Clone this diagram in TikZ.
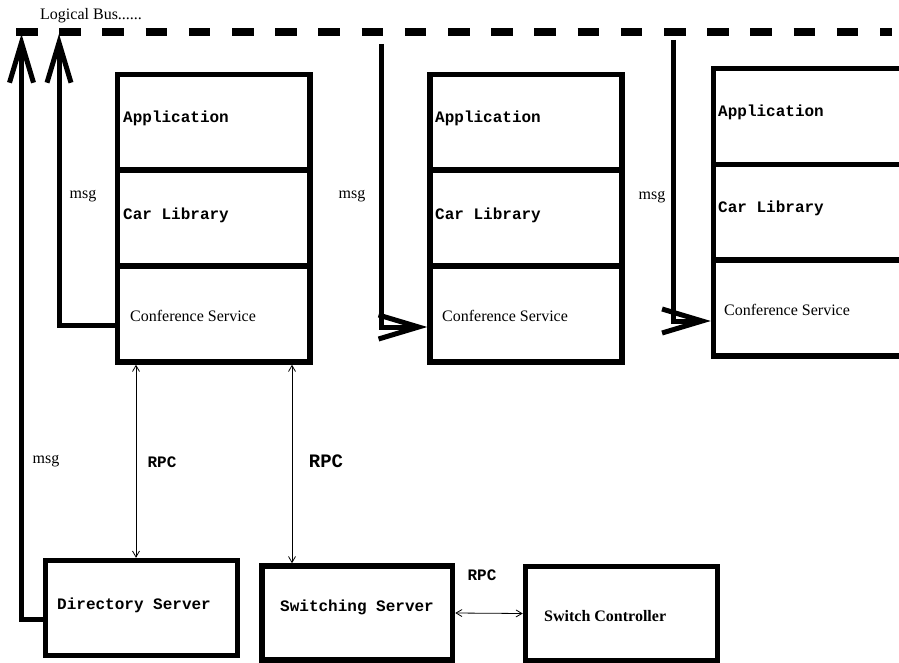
\documentclass[tikz,border=0pt]{standalone}
\usepackage{fontspec}
\setmainfont{Liberation Serif}
\newfontfamily\monofont{Liberation Mono}
\usetikzlibrary{arrows.meta}

\begin{document}
\begin{tikzpicture}[x=1pt,y=-1pt,
  layer/.style={draw, line width=5.5pt, inner sep=0pt},
  monotext/.style={font=\monofont\bfseries\fontsize{16}{18}\selectfont, anchor=west, inner sep=0pt},
  seriftext/.style={font=\fontsize{16}{18}\selectfont, anchor=west, inner sep=0pt},
  boldserif/.style={font=\bfseries\fontsize{16}{18}\selectfont, anchor=west, inner sep=0pt},
  rpclabel/.style={font=\monofont\bfseries\fontsize{#1}{#1}\selectfont, inner sep=0pt},
  rpclabel/.default=16,
  msgarrow/.style={line width=5pt, -{Straight Barb[length=40pt,width=24pt]}},
  rpcarrow/.style={line width=0.8pt, {Straight Barb[length=6pt,width=7pt]}-{Straight Barb[length=6pt,width=7pt]}},
  bus/.style={line width=8pt, dash pattern=on 21.5pt off 21.7pt}]

\useasboundingbox (0,0) rectangle (899,663);
\clip (0,0) rectangle (899,663);

% logical bus
\node[seriftext] (buslabel) at (40,16) {Logical Bus......};
\coordinate (busL) at (16,32);
\coordinate (busR) at (892,32);
\draw[bus] (busL) -- (busR);

% first host stack
\node[layer, minimum width=192.5pt, minimum height=95.5pt] (app1) at (213.75,122.5) {};
\node[layer, minimum width=192.5pt, minimum height=95.5pt] (lib1) at (213.75,218.25) {};
\node[layer, minimum width=192.5pt, minimum height=96pt]   (cs1)  at (213.75,314) {};
\node[monotext]  (app1t) at (123,118) {Application};
\node[monotext]  (lib1t) at (123,215) {Car Library};
\node[seriftext] (cs1t)  at (130,316) {Conference Service};

% second host stack
\node[layer, minimum width=192pt, minimum height=95.5pt] (app2) at (526,122.5) {};
\node[layer, minimum width=192pt, minimum height=95.5pt] (lib2) at (526,218.25) {};
\node[layer, minimum width=192pt, minimum height=96pt]   (cs2)  at (526,314) {};
\node[monotext]  (app2t) at (435,118) {Application};
\node[monotext]  (lib2t) at (435,215) {Car Library};
\node[seriftext] (cs2t)  at (442,316) {Conference Service};

% third host stack
\node[layer, minimum width=200pt, minimum height=96pt]   (app3) at (813.5,116.5) {};
\node[layer, minimum width=200pt, minimum height=95.5pt] (lib3) at (813.5,212.25) {};
\node[layer, minimum width=200pt, minimum height=96pt]   (cs3)  at (813.5,308) {};
\node[monotext]  (app3t) at (718,112) {Application};
\node[monotext]  (lib3t) at (718,208) {Car Library};
\node[seriftext] (cs3t)  at (724,310) {Conference Service};

% servers
\node[layer, minimum width=192pt, minimum height=95pt]  (dir) at (141.5,608) {};
\node[monotext] (dirt) at (57,605) {Directory Server};
\node[layer, minimum width=190.5pt, minimum height=94pt] (sw) at (357.25,613) {};
\node[monotext] (swt) at (280,607) {Switching Server};
\node[layer, minimum width=192pt, minimum height=94pt] (ctl) at (621.5,613.5) {};
\node[boldserif] (ctlt) at (544,616) {Switch Controller};

% message paths to and from the bus
\coordinate (upA) at (21.5,34);
\coordinate (upB) at (59,34);
\coordinate (dnC) at (381,44);
\coordinate (dnD) at (673,40);
\draw[msgarrow] ([yshift=-11.5pt]dir.west) -| (upA);
\draw[msgarrow] ([yshift=-11.5pt]cs1.west) -| (upB);
\draw[msgarrow] (dnC) |- ([yshift=-13pt]cs2.west);
\draw[msgarrow] (dnD) |- ([yshift=-13pt]cs3.west);

\node[seriftext, anchor=center] (msg1) at (83,196) {msg};
\node[seriftext, anchor=center] (msg2) at (352,196) {msg};
\node[seriftext, anchor=center] (msg3) at (652,197) {msg};
\node[seriftext, anchor=center] (msg4) at (46,461) {msg};

% RPC links
\coordinate (xA) at (136,0);
\coordinate (xB) at (292,0);
\draw[rpcarrow] (cs1.south -| xA) -- (dir.north -| xA);
\draw[rpcarrow] (cs1.south -| xB) -- (sw.north -| xB);
\draw[rpcarrow] (sw.east) -- (ctl.west);

\node[rpclabel] (rpc1) at (162,462) {RPC};
\node[rpclabel=19] (rpc2) at (326,461) {RPC};
\node[rpclabel] (rpc3) at (482,575) {RPC};
\end{tikzpicture}
\end{document}
